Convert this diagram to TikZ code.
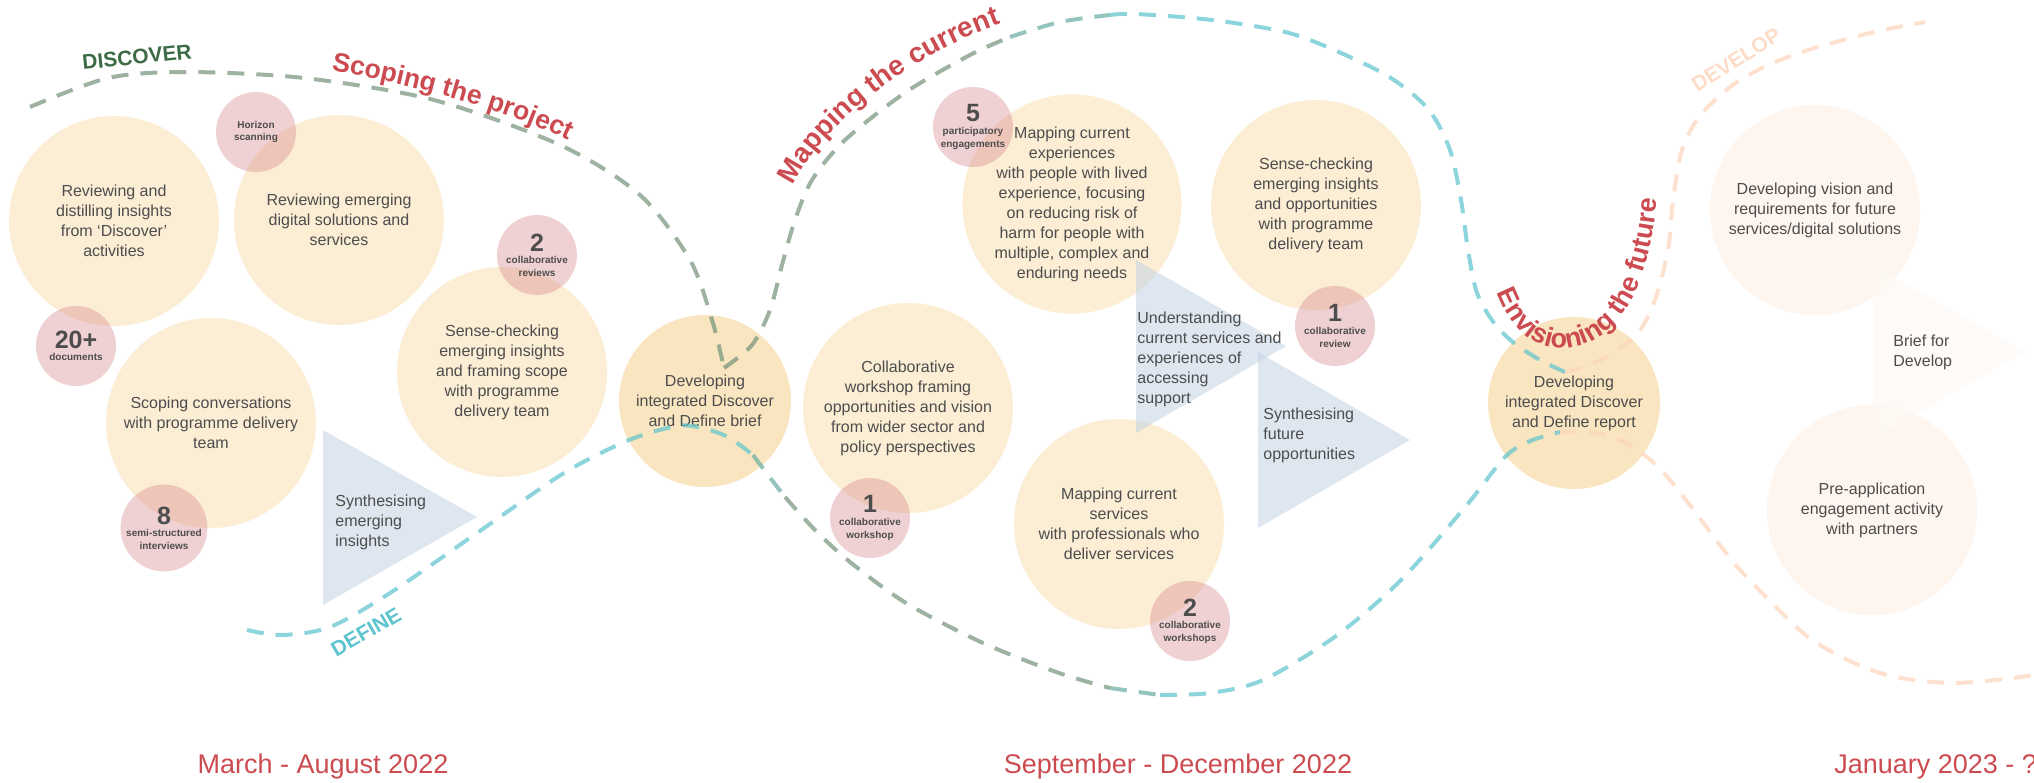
\documentclass[tikz,border=0pt]{standalone}
\usepackage{fontspec}
\setmainfont{Liberation Sans}
\usetikzlibrary{decorations.text}

\definecolor{peachfill}{HTML}{FCEDD5}
\definecolor{briefill}{HTML}{F9E5C0}
\definecolor{pinkfill}{HTML}{D98C90}
\definecolor{trifill}{HTML}{C3D2E2}
\definecolor{fadefill}{HTML}{FEF5EF}
\definecolor{fadetri}{HTML}{FEF9F5}
\definecolor{greenline}{HTML}{739277}
\definecolor{tealline}{HTML}{5CC3CD}
\definecolor{peachline}{HTML}{FCD4B9}
\definecolor{labelred}{HTML}{CC4B50}
\definecolor{labelgreen}{HTML}{3C6B45}
\definecolor{labelteal}{HTML}{5EC4CF}
\definecolor{labelpeach}{HTML}{FDDCC8}
\definecolor{bodytext}{HTML}{4D4D4D}

\newcommand{\tallynum}[1]{{\fontsize{12.5}{6.3}\selectfont #1}}

\begin{document}
\begin{tikzpicture}[x=0.5pt, y=-0.5pt,
  activity/.style={circle, fill=peachfill, minimum size=105pt, inner sep=0pt, align=center,
                   text=bodytext, font=\fontsize{8}{10}\selectfont},
  milestone/.style={activity, fill=briefill, minimum size=86pt},
  faded/.style={activity, fill=fadefill},
  tally/.style={circle, fill=pinkfill, fill opacity=0.4, text opacity=1, minimum size=40pt,
                inner sep=0pt, align=center, text=bodytext, font=\fontsize{5}{6.3}\selectfont\bfseries},
  tritext/.style={anchor=west, align=left, inner sep=0pt, text=bodytext, font=\fontsize{8}{10}\selectfont},
  phase/.style={line width=2pt, dash pattern=on 8.5pt off 6pt, draw opacity=0.7},
  stagename/.style={font=\fontsize{10.5}{10.5}\selectfont\bfseries},
  period/.style={text=labelred, font=\fontsize{13.5}{13.5}\selectfont},
  arclabel/.style={decorate, decoration={text along path, text align=center, text color=labelred}},
]
	\useasboundingbox (0,0) rectangle (2034,782);

	% activities
	\node[activity] (reviewinsights) at (114,221) {Reviewing and\\distilling insights\\from ‘Discover’\\activities};
	\node[activity] (reviewdigital) at (339,220) {Reviewing emerging\\digital solutions and\\services};
	\node[activity] (scopingconv) at (211,423) {Scoping conversations\\with programme delivery\\team};
	\node[activity] (sensescope) at (502,372) {Sense-checking\\emerging insights\\and framing scope\\with programme\\delivery team};
	\node[milestone] (briefcircle) at (705,401) {Developing\\integrated Discover\\and Define brief};
	\node[activity] (workshopframe) at (908,408) {Collaborative\\workshop framing\\opportunities and vision\\from wider sector and\\policy perspectives};
	\node[activity] (mapexperiences) at (1072,204) {Mapping current\\experiences\\with people with lived\\experience, focusing\\on reducing risk of\\harm for people with\\multiple, complex and\\enduring needs};
	\node[activity] (mapservices) at (1119,524) {Mapping current\\services\\with professionals who\\deliver services};
	\node[activity] (sensefuture) at (1316,205) {Sense-checking\\emerging insights\\and opportunities\\with programme\\delivery team};
	\node[milestone] (reportcircle) at (1574,403) {Developing\\integrated Discover\\and Define report};
	\node[faded] (visioncircle) at (1815,210) {Developing vision and\\requirements for future\\services/digital solutions};
	\node[faded] (preapp) at (1872,510) {Pre-application\\engagement activity\\with partners};

	% synthesis triangles
	\fill[trifill, fill opacity=0.55] (323,430) -- (323,605) -- (477,517) -- cycle;
	\fill[trifill, fill opacity=0.55] (1136,260) -- (1136,433) -- (1286,346) -- cycle;
	\fill[trifill, fill opacity=0.55] (1258,352) -- (1258,528) -- (1410,440) -- cycle;
	\fill[fadetri, fill opacity=0.8] (1873,265) -- (1873,438) -- (2025,352) -- cycle;
	\node[tritext] (synthinsights) at (335,522) {Synthesising\\emerging\\insights};
	\node[tritext] (understanding) at (1137,359) {Understanding\\current services and\\experiences of\\accessing\\support};
	\node[tritext] (synthfuture) at (1263,435) {Synthesising\\future\\opportunities};
	\node[tritext] (brieftxt) at (1893,352) {Brief for\\Develop};

	% counts
	\node[tally] (horizon) at (256,132) {Horizon\\scanning};
	\node[tally] (docs) at (76,346) {\tallynum{20+}\\documents};
	\node[tally] (reviews) at (537,255) {\tallynum{2}\\collaborative\\reviews};
	\node[tally] (interviews) at (164,528) {\tallynum{8}\\semi-structured\\interviews};
	\node[tally] (workshopcount) at (870,518) {\tallynum{1}\\collaborative\\workshop};
	\node[tally] (workshopscount) at (1190,621) {\tallynum{2}\\collaborative\\workshops};
	\node[tally] (engagements) at (973,127) {\tallynum{5}\\participatory\\engagements};
	\node[tally] (reviewcount) at (1335,326) {\tallynum{1}\\collaborative\\review};

	% discover / mapping arcs
	\draw[phase, greenline] plot[smooth] coordinates {(30,107) (108,78) (186,72) (304,78) (434,100) (560,145) (640,195) (690,260) (712,320) (724,368)};
	\draw[phase, greenline] plot[smooth] coordinates {(724,368) (752,345) (770,310) (782,265) (795,220) (812,180) (845,140) (906,92) (970,55) (1010,37)};
	\draw[phase, greenline!50!tealline] plot[smooth] coordinates {(1010,37) (1060,22) (1110,15)};
	\draw[phase, tealline] plot[smooth] coordinates {(1110,15) (1136,14) (1212,20) (1289,33) (1350,57) (1394,80) (1429,110) (1450,150) (1461,200) (1468,250) (1477,293) (1494,323) (1514,343) (1540,360) (1565,372)};
	\draw[phase, peachline] plot[smooth] coordinates {(1565,372) (1590,365) (1612,353) (1638,333) (1655,300) (1668,250) (1673,200) (1682,150) (1699,117) (1730,87) (1764,67) (1808,50) (1874,32) (1925,22)};

	% define wave
	\draw[phase, tealline] plot[smooth] coordinates {(247,630) (282,635) (330,627) (390,593) (477,533) (564,473) (629,440) (677,426) (702,428) (728,437) (753,455)};
	\draw[phase, greenline!50!tealline] plot[smooth] coordinates {(753,455) (768,475) (785,497)};
	\draw[phase, greenline] plot[smooth] coordinates {(785,497) (815,530) (850,562) (906,603) (983,643) (1059,673) (1110,688)};
	\draw[phase, greenline!50!tealline] plot[smooth] coordinates {(1110,688) (1160,695)};
	\draw[phase, tealline] plot[smooth] coordinates {(1160,695) (1210,693) (1263,680) (1336,636) (1401,580) (1466,506) (1505,457) (1530,441) (1560,432)};
	\draw[phase, peachline] plot[smooth] coordinates {(1560,432) (1590,432) (1620,440) (1647,457) (1670,480) (1699,517) (1734,563) (1769,600) (1808,637) (1852,662) (1895,677) (1952,683) (2013,678) (2050,672)};

	% stage names
	\node[stagename, text=labelgreen, rotate=6] (discover) at (137,57) {DISCOVER};
	\node[stagename, text=labelteal, rotate=30] (define) at (366,632) {DEFINE};
	\node[stagename, text=labelpeach, rotate=32] (develop) at (1736,60) {DEVELOP};

	\path[arclabel, decoration={text={|\fontsize{13.3}{13.3}\selectfont\bfseries|Scoping the project}}]
		(328,70) .. controls (398,82) and (495,105) .. (572,142);
	\path[arclabel, decoration={text={|\fontsize{14}{14}\selectfont\bfseries|Mapping the current}}]
		(793,185) .. controls (820,130) and (900,60) .. (1000,24);
	\path[arclabel, decoration={text={|\fontsize{13.5}{13.5}\selectfont\bfseries|Envisioning the future}}]
		(1490,270) .. controls (1505,330) and (1535,350) .. (1565,348) .. controls (1610,345) and (1655,300) .. (1658,175);

	% time periods
	\node[period] (spring) at (323,767) {March - August 2022};
	\node[period] (autumn) at (1178,767) {September - December 2022};
	\node[period, anchor=west, inner sep=0pt] (nextyear) at (1834,767) {January 2023 - ?};
\end{tikzpicture}
\end{document}
